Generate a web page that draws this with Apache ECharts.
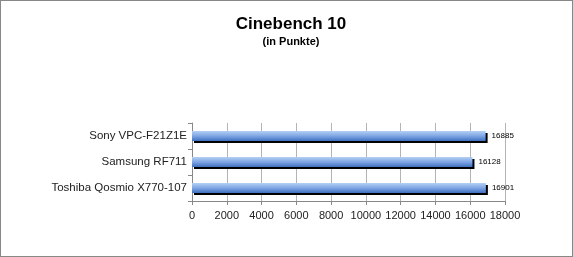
<!DOCTYPE html>
<html><head><meta charset="utf-8">
<script src="https://cdn.jsdelivr.net/npm/echarts@6/dist/echarts.min.js"></script>
<style>html,body{margin:0;padding:0;background:#fff}#c{width:573px;height:257px;box-sizing:border-box;border:1px solid #888}</style>
</head><body><div id="c"></div>
<script>
const categories = ['Toshiba Qosmio X770-107', 'Samsung RF711', 'Sony VPC-F21Z1E'];
const values = [16901, 16128, 16885];
const titleText = 'Cinebench 10';
const subtitleText = '(in Punkte)';
const chart = echarts.init(document.getElementById('c'), null, {renderer: 'canvas'});
chart.setOption({
  animation: false,
  backgroundColor: '#fff',
  title: {
    text: titleText, subtext: subtitleText, left: 285, textAlign: 'center', top: 10,
    itemGap: 3,
    textStyle: {fontFamily: 'Liberation Sans, Arial', fontWeight: 'bold', fontSize: 17, color: '#000'},
    subtextStyle: {fontFamily: 'Liberation Sans, Arial', fontWeight: 'bold', fontSize: 11, color: '#000'}
  },
  grid: {left: 191, right: 67, top: 122, bottom: 55, containLabel: false},
  xAxis: {
    type: 'value', min: 0, max: 18000, interval: 2000,
    axisLine: {show: true, lineStyle: {color: '#888'}},
    axisTick: {show: true, length: 4, lineStyle: {color: '#888'}},
    splitLine: {show: true, lineStyle: {color: '#b4b4b4'}},
    axisLabel: {fontFamily: 'Liberation Sans, Arial', fontSize: 11, color: '#222', margin: 9,
      formatter: v => String(v)}
  },
  yAxis: {
    type: 'category', data: categories,
    axisLine: {show: true, lineStyle: {color: '#888'}},
    axisTick: {show: true, length: 4, lineStyle: {color: '#888'}},
    axisLabel: {fontFamily: 'Liberation Sans, Arial', fontSize: 11.5, color: '#222', margin: 5}
  },
  series: [{
    type: 'bar', data: values, barWidth: 10,
    itemStyle: {
      color: new echarts.graphic.LinearGradient(0, 0, 0, 1, [
        {offset: 0, color: '#b4d0f4'},
        {offset: 0.5, color: '#7ea6e4'},
        {offset: 1, color: '#3f6fbf'}
      ]),
      shadowColor: '#000', shadowOffsetX: 2, shadowOffsetY: 2, shadowBlur: 0
    },
    label: {show: true, position: 'right', distance: 6, fontFamily: 'Liberation Sans, Arial', fontSize: 8, color: '#000'}
  }]
});
</script></body></html>
